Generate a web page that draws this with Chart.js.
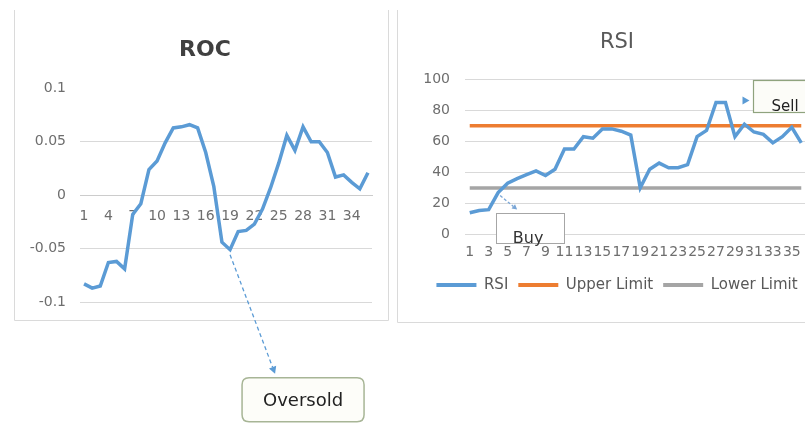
<!DOCTYPE html>
<html><head><meta charset="utf-8">
<script src="https://cdn.jsdelivr.net/npm/chart.js@4.4.1/dist/chart.umd.min.js"></script>
<style>
html,body{margin:0;padding:0;background:#fff;width:805px;height:423px;overflow:hidden;position:relative}
#roc{position:absolute;left:0;top:0;width:395px;height:423px}
#rsi{position:absolute;left:397px;top:0;width:440px;height:423px}
</style></head><body>
<canvas id="roc" width="395" height="423"></canvas>
<canvas id="rsi" width="440" height="423"></canvas>
<script>
// ---------- DATA ----------
const rocCategories = ['1','2','3','4','5','6','7','8','9','10','11','12','13','14','15','16','17','18','19','20','21','22','23','24','25','26','27','28','29','30','31','32','33','34','35','36'];
const rocValues = [-0.083,-0.087,-0.085,-0.063,-0.062,-0.069,-0.018,-0.008,0.024,0.032,0.049,0.063,0.064,0.066,0.063,0.04,0.008,-0.044,-0.051,-0.034,-0.033,-0.027,-0.013,0.007,0.03,0.056,0.042,0.064,0.05,0.05,0.04,0.017,0.019,0.012,0.006,0.021];
const rocTickLabels = ['-0.1','-0.05','0','0.05','0.1'];
const oversoldIndex = 18;   // category the "Oversold" callout points at

const rsiCategories = ['1','2','3','4','5','6','7','8','9','10','11','12','13','14','15','16','17','18','19','20','21','22','23','24','25','26','27','28','29','30','31','32','33','34','35','36'];
const rsiValues = [14,15.5,16,27,33,36,38.5,41,38,42,55,55,63,62,68,68,66.5,64,30,42,46,43,43,45,63,67,85,85,63,71,66,64.5,59,63,69,59];
const upperLimit = [70,70,70,70,70,70,70,70,70,70,70,70,70,70,70,70,70,70,70,70,70,70,70,70,70,70,70,70,70,70,70,70,70,70,70,70];
const lowerLimit = [30,30,30,30,30,30,30,30,30,30,30,30,30,30,30,30,30,30,30,30,30,30,30,30,30,30,30,30,30,30,30,30,30,30,30,30];
const rsiTickLabels = ['0','20','40','60','80','100'];
const buyIndex = 3;    // category the "Buy" callout points at
const sellIndex = 27;  // category the "Sell" callout points at

// ---------- STYLE ----------
const FONT = 'DejaVu Sans';
const TICK = '#6e6e6e';
const BLUE = '#5b9bd5', ORANGE = '#ed7d31', GREY = '#a5a5a5';

function arrow(ctx, x1, y1, x2, y2, color, dash, head) {
  ctx.save();
  ctx.strokeStyle = color; ctx.fillStyle = color; ctx.lineWidth = 1.3;
  ctx.setLineDash(dash);
  const a = Math.atan2(y2 - y1, x2 - x1);
  const bx = x2 - Math.cos(a) * head, by = y2 - Math.sin(a) * head;
  ctx.beginPath(); ctx.moveTo(x1, y1); ctx.lineTo(bx, by); ctx.stroke();
  ctx.setLineDash([]);
  ctx.beginPath();
  ctx.moveTo(x2, y2);
  ctx.lineTo(bx + Math.cos(a + Math.PI / 2) * head * 0.55, by + Math.sin(a + Math.PI / 2) * head * 0.55);
  ctx.lineTo(bx + Math.cos(a - Math.PI / 2) * head * 0.55, by + Math.sin(a - Math.PI / 2) * head * 0.55);
  ctx.closePath(); ctx.fill();
  ctx.restore();
}
function roundRect(ctx, x, y, w, h, r) {
  ctx.beginPath();
  ctx.moveTo(x + r, y); ctx.lineTo(x + w - r, y); ctx.quadraticCurveTo(x + w, y, x + w, y + r);
  ctx.lineTo(x + w, y + h - r); ctx.quadraticCurveTo(x + w, y + h, x + w - r, y + h);
  ctx.lineTo(x + r, y + h); ctx.quadraticCurveTo(x, y + h, x, y + h - r);
  ctx.lineTo(x, y + r); ctx.quadraticCurveTo(x, y, x + r, y); ctx.closePath();
}

const rocDecor = {
  id: 'rocDecor',
  beforeDraw(chart) {
    const c = chart.ctx; c.save();
    c.strokeStyle = '#dadada'; c.lineWidth = 1;
    c.beginPath();
    c.moveTo(14.5, 10); c.lineTo(14.5, 320.5); c.lineTo(388.5, 320.5); c.lineTo(388.5, 10);
    c.stroke(); c.restore();
  },
  afterDraw(chart) {
    const c = chart.ctx;
    const i = oversoldIndex;
    const ax = chart.scales.x.getPixelForValue(i), ay = chart.scales.y.getPixelForValue(rocValues[i]);
    arrow(c, ax, ay + 5, ax + 45, ay + 124, BLUE, [4, 3], 7);
    c.save();
    roundRect(c, ax + 12, ay + 128, 122, 44, 7);
    c.fillStyle = '#fdfdf9'; c.fill();
    c.strokeStyle = '#a7b596'; c.lineWidth = 1.5; c.stroke();
    c.fillStyle = '#222'; c.font = '18px "' + FONT + '"';
    c.textAlign = 'center'; c.textBaseline = 'middle';
    c.fillText('Oversold', ax + 73, ay + 152);
    c.restore();
  }
};

const rsiDecor = {
  id: 'rsiDecor',
  beforeDraw(chart) {
    const c = chart.ctx; c.save();
    c.strokeStyle = '#dadada'; c.lineWidth = 1;
    c.beginPath(); c.moveTo(0.5, 10); c.lineTo(0.5, 322.5); c.lineTo(440, 322.5); c.stroke();
    c.restore();
  },
  afterDraw(chart) {
    const c = chart.ctx, xs = chart.scales.x, ys = chart.scales.y;
    // Buy callout
    const bx = xs.getPixelForValue(buyIndex), by = ys.getPixelForValue(rsiValues[buyIndex]);
    arrow(c, bx + 2, by + 3, bx + 19, by + 17, '#7aa6d6', [3, 2], 5);
    c.save();
    c.fillStyle = '#fff'; c.fillRect(bx - 2, by + 20, 68, 30);
    c.strokeStyle = '#a6a6a6'; c.lineWidth = 1; c.strokeRect(Math.round(bx - 2) + 0.5, Math.round(by + 20) + 0.5, 68, 30);
    c.fillStyle = '#333'; c.font = '16px "' + FONT + '"'; c.textAlign = 'center'; c.textBaseline = 'middle';
    c.fillText('Buy', bx + 30, by + 46);
    c.restore();
    // Sell callout
    const sx = xs.getPixelForValue(sellIndex), sy = ys.getPixelForValue(rsiValues[sellIndex]);
    c.save();
    c.fillStyle = BLUE;
    c.beginPath(); c.moveTo(sx + 24, sy - 2); c.lineTo(sx + 17, sy - 6); c.lineTo(sx + 17, sy + 2); c.closePath(); c.fill();
    c.fillStyle = '#fcfcf8'; c.fillRect(sx + 28, sy - 22, 90, 32);
    c.strokeStyle = '#8fa37e'; c.lineWidth = 1.2;
    c.strokeRect(Math.round(sx + 28) + 0.5, Math.round(sy - 22) + 0.5, 90, 32);
    c.fillStyle = '#222'; c.font = '15px "' + FONT + '"'; c.textAlign = 'left'; c.textBaseline = 'middle';
    c.fillText('Sell', sx + 46, sy + 5);
    c.restore();
  }
};

Chart.defaults.font.family = FONT;

new Chart(document.getElementById('roc'), {
  type: 'line',
  data: { labels: rocCategories, datasets: [{ label: 'ROC', data: rocValues, borderColor: BLUE, backgroundColor: BLUE, borderWidth: 3.5, pointRadius: 0, tension: 0, fill: false }] },
  options: {
    responsive: false, animation: false, devicePixelRatio: 1,
    layout: { padding: { left: 15, right: 0, top: 0, bottom: 121 } },
    plugins: {
      legend: { display: false }, tooltip: { enabled: false },
      title: { display: true, text: 'ROC', color: '#404040', font: { family: FONT, size: 22, weight: 'bold' }, padding: { top: 37, bottom: 25 } }
    },
    scales: {
      x: {
        position: { y: 0 }, offset: true,
        grid: { color: 'rgba(0,0,0,0)', drawTicks: false },
        border: { display: true, color: '#cccccc', dash: [2, 3], width: 1 },
        ticks: { autoSkip: false, maxRotation: 0, minRotation: 0, padding: 13, color: TICK, font: { family: FONT, size: 14 },
          callback: (v, i) => (i % 3 === 0 ? rocCategories[i] : '') }
      },
      y: {
        min: -0.1, max: 0.1,
        ticks: { stepSize: 0.05, padding: 14, color: TICK, font: { family: FONT, size: 14 }, callback: (v, i) => rocTickLabels[i] },
        grid: { drawTicks: false, color: (ctx) => (ctx.tick && (Math.abs(ctx.tick.value) < 1e-9 || ctx.tick.value > 0.09)) ? 'rgba(0,0,0,0)' : '#d9d9d9' },
        border: { display: false },
        afterFit: (s) => { s.width = 65; }
      },
      yR: { position: 'right', grid: { display: false, drawTicks: false }, ticks: { display: false }, border: { display: false }, afterFit: (s) => { s.width = 23; } }
    }
  },
  plugins: [rocDecor]
});

new Chart(document.getElementById('rsi'), {
  type: 'line',
  data: {
    labels: rsiCategories,
    datasets: [
      { label: 'RSI', data: rsiValues, borderColor: BLUE, backgroundColor: BLUE, borderWidth: 3.5, pointRadius: 0, tension: 0, fill: false },
      { label: 'Upper Limit', data: upperLimit, borderColor: ORANGE, backgroundColor: ORANGE, borderWidth: 3.5, pointRadius: 0, tension: 0, fill: false },
      { label: 'Lower Limit', data: lowerLimit, borderColor: GREY, backgroundColor: GREY, borderWidth: 3.5, pointRadius: 0, tension: 0, fill: false }
    ]
  },
  options: {
    responsive: false, animation: false, devicePixelRatio: 1,
    layout: { padding: { left: 0, right: 0, top: 0, bottom: 120.5 } },
    plugins: {
      tooltip: { enabled: false },
      title: { display: true, text: 'RSI', color: '#595959', font: { family: FONT, size: 21, weight: 'normal' }, padding: { top: 30, bottom: 24 } },
      legend: {
        position: 'bottom',
        labels: {
          boxWidth: 40, boxHeight: 4, padding: 10, color: '#595959', font: { family: FONT, size: 15 },
          generateLabels: (chart) => Chart.defaults.plugins.legend.labels.generateLabels(chart).map(l => Object.assign(l, { lineWidth: 0, fillStyle: l.strokeStyle }))
        }
      }
    },
    scales: {
      x: {
        offset: true,
        grid: { color: 'rgba(0,0,0,0)', drawTicks: false },
        border: { display: true, color: '#d9d9d9', width: 1 },
        ticks: { autoSkip: false, maxRotation: 0, minRotation: 0, padding: 9, color: TICK, font: { family: FONT, size: 14 },
          callback: (v, i) => (i % 2 === 0 ? rsiCategories[i] : '') },
        afterFit: (s) => { s.height = 33; }
      },
      y: {
        min: 0, max: 100,
        ticks: { stepSize: 20, padding: 15, color: TICK, font: { family: FONT, size: 14 }, callback: (v, i) => rsiTickLabels[i] },
        grid: { drawTicks: false, color: '#d9d9d9' },
        border: { display: false },
        afterFit: (s) => { s.width = 68; }
      },
      yR: { position: 'right', grid: { display: false, drawTicks: false }, ticks: { display: false }, border: { display: false }, afterFit: (s) => { s.width = 31; } }
    }
  },
  plugins: [rsiDecor]
});
</script>
</body></html>
